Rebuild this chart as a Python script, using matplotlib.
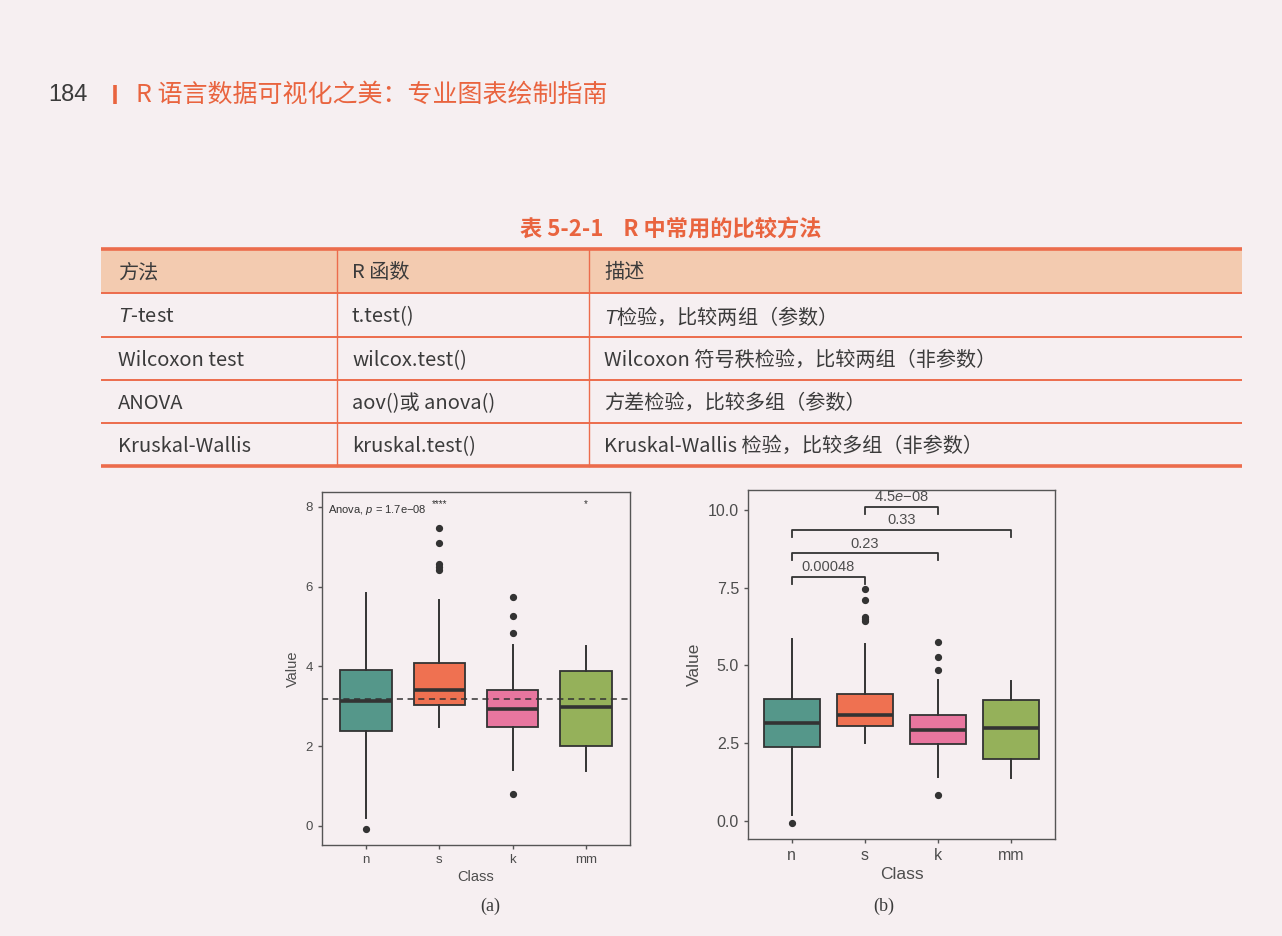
import matplotlib
matplotlib.use('Agg')
import matplotlib.pyplot as plt

plt.rcParams['mathtext.fontset'] = 'custom'
plt.rcParams['mathtext.it'] = 'Liberation Sans:italic'
plt.rcParams['mathtext.rm'] = 'Liberation Sans'

# ---------------- data ----------------
page_number = '184'
book_title = 'R 语言数据可视化之美：专业图表绘制指南'
table_caption = '表 5-2-1    R 中常用的比较方法'
table_header = ['方法', 'R 函数', '描述']
table_method = ['$T$-test', 'Wilcoxon test', 'ANOVA', 'Kruskal-Wallis']
table_function = ['t.test()', 'wilcox.test()', 'aov()或 anova()', 'kruskal.test()']
table_desc = ['$T$检验，比较两组（参数）',
              'Wilcoxon 符号秩检验，比较两组（非参数）',
              '方差检验，比较多组（参数）',
              'Kruskal-Wallis 检验，比较多组（非参数）']

classes = ['n', 's', 'k', 'mm']
q1 = [2.38, 3.03, 2.47, 1.99]
medians = [3.14, 3.41, 2.92, 2.98]
q3 = [3.91, 4.09, 3.40, 3.87]
whisker_low = [0.19, 2.49, 1.40, 1.38]
whisker_high = [5.83, 5.67, 4.53, 4.50]
outliers = [[-0.07], [7.47, 7.10, 6.56, 6.50, 6.42], [5.75, 5.27, 4.84, 0.81], []]
overall_mean = 3.17
anova_label = 'Anova, $p$ = 1.7e−08'
signif_labels = ['', '****', '', '*']

pair_groups = [('n', 's'), ('n', 'k'), ('n', 'mm'), ('s', 'k')]
pair_pvalues = ['0.00048', '0.23', '0.33', '4.5$e$−08']
bracket_y = [7.85, 8.60, 9.36, 10.10]

box_colors = ['#55978a', '#ef7151', '#e8769f', '#95b15a']

# ---------------- styling ----------------
W, H = 1282, 936
page_bg = '#f6eff1'
orange = '#e9643f'
line_orange = '#ec6c4c'
header_fill = '#f3cbb0'
text_dark = '#3b3b3b'
cjk = ['Noto Sans CJK SC', 'DejaVu Sans']
sans = ['Liberation Sans', 'DejaVu Sans']

fig = plt.figure(figsize=(W / 100, H / 100), dpi=100, facecolor=page_bg)
bg = fig.add_axes([0, 0, 1, 1])
bg.set_xlim(0, W)
bg.set_ylim(H, 0)
bg.axis('off')

# page header
bg.text(48, 95, page_number, fontsize=17, family=sans, color=text_dark, va='center', ha='left')
bg.plot([115, 115], [85, 104], color=orange, lw=2.6, solid_capstyle='butt')
bg.text(136, 95, book_title, fontsize=18, family=cjk, color=orange, va='center', ha='left')

# table caption
bg.text(671, 229, table_caption, fontsize=16, family=cjk, color=orange, va='center',
        ha='center', fontweight='bold')

# table
tx0, tx1 = 101, 1242
col_x = [tx0, 337, 589]
row_edges = [249, 293, 337, 380, 423, 466]
bg.fill_between([tx0, tx1], row_edges[0], row_edges[1], color=header_fill, lw=0)
for i, y in enumerate(row_edges):
    lw = 2.6 if i in (0, len(row_edges) - 1) else 1.4
    bg.plot([tx0, tx1], [y, y], color=line_orange, lw=lw, solid_capstyle='butt')
for x in col_x[1:]:
    bg.plot([x, x], [row_edges[0], row_edges[-1]], color=line_orange, lw=1.0)

text_x = [118, 352, 604]
hy = (row_edges[0] + row_edges[1]) / 2 + 2
for x, t in zip(text_x, table_header):
    bg.text(x, hy, t, fontsize=14.5, family=cjk, color=text_dark, va='center', ha='left')
for r in range(len(table_method)):
    y = (row_edges[r + 1] + row_edges[r + 2]) / 2 + 2
    for x, t in zip(text_x, [table_method[r], table_function[r], table_desc[r]]):
        bg.text(x, y, t, fontsize=14.5, family=cjk, color=text_dark, va='center', ha='left')

# sub captions
bg.text(490, 906, '(a)', fontsize=13, family=['Liberation Serif', 'DejaVu Serif'], color=text_dark,
        ha='center', va='center')
bg.text(884, 906, '(b)', fontsize=13, family=['Liberation Serif', 'DejaVu Serif'], color=text_dark,
        ha='center', va='center')


def make_axes(l, r, t, b):
    return fig.add_axes([l / W, (H - b) / H, (r - l) / W, (b - t) / H])


def draw_box(ax, width, tick_fs, title_fs):
    ax.set_facecolor('none')
    stats = []
    for i, c in enumerate(classes):
        stats.append(dict(label=c, q1=q1[i], med=medians[i], q3=q3[i],
                          whislo=whisker_low[i], whishi=whisker_high[i], fliers=outliers[i]))
    pos = list(range(1, len(classes) + 1))
    bp = ax.bxp(stats, positions=pos, widths=width, patch_artist=True, showcaps=False,
                boxprops=dict(edgecolor='#333333', linewidth=1.3),
                medianprops=dict(color='#333333', linewidth=2.6),
                whiskerprops=dict(color='#333333', linewidth=1.4),
                flierprops=dict(marker='o', markerfacecolor='#333333', markeredgecolor='#333333',
                                markersize=4.2))
    for patch, col in zip(bp['boxes'], box_colors):
        patch.set_facecolor(col)
    ax.set_xlim(0.4, len(classes) + 0.6)
    for s in ax.spines.values():
        s.set_color('#555555')
        s.set_linewidth(1.0)
    ax.tick_params(direction='out', length=3, color='#555555', labelcolor='#4d4d4d',
                   labelsize=tick_fs, width=1.0)
    for lab in ax.get_xticklabels() + ax.get_yticklabels():
        lab.set_family(sans)
    ax.set_xlabel('Class', fontsize=title_fs, family=sans, color='#4d4d4d', labelpad=3)
    ax.set_ylabel('Value', fontsize=title_fs, family=sans, color='#4d4d4d', labelpad=4)
    return pos


# ----- plot (a) -----
axa = make_axes(322, 630, 492, 845)
pos = draw_box(axa, 0.70, 9.5, 10.5)
axa.set_ylim(-0.48, 8.37)
axa.set_yticks([0, 2, 4, 6, 8])
axa.set_yticklabels(['0', '2', '4', '6', '8'], family=sans)
axa.axhline(overall_mean, color='#333333', lw=1.1, ls=(0, (4, 3)), zorder=5)
axa.text(0.48, 7.92, anova_label, fontsize=8, family=sans, color='#333333', ha='left', va='center')
for p, lab in zip(pos, signif_labels):
    if lab:
        axa.text(p, 7.98, lab, fontsize=7, family=sans, color='#333333', ha='center',
                 va='baseline')

# ----- plot (b) -----
axb = make_axes(748, 1055, 490, 839)
pos = draw_box(axb, 0.77, 11.5, 12.5)
axb.set_ylim(-0.59, 10.64)
axb.set_yticks([0, 2.5, 5, 7.5, 10])
axb.set_yticklabels(['0.0', '2.5', '5.0', '7.5', '10.0'], family=sans)
tip = 0.22
for (g1, g2), lab, y in zip(pair_groups, pair_pvalues, bracket_y):
    x1 = classes.index(g1) + 1
    x2 = classes.index(g2) + 1
    axb.plot([x1, x1, x2, x2], [y - tip, y, y, y - tip], color='#333333', lw=1.3)
    axb.text((x1 + x2) / 2, y + 0.08, lab, fontsize=10.5, family=sans, color='#4d4d4d',
             ha='center', va='bottom')

fig.savefig('out.png', dpi=100, facecolor=page_bg)
